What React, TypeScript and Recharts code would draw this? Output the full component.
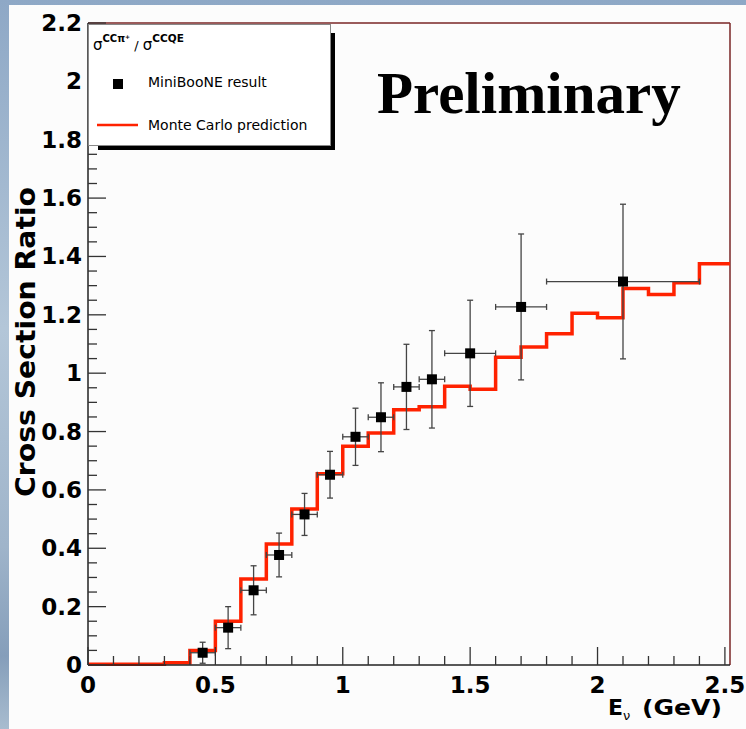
import React from "react";
import {
  ComposedChart,
  Line,
  Scatter,
  ErrorBar,
  XAxis,
  YAxis,
  ReferenceLine,
} from "recharts";

// MC prediction: bin edges and contents
const mcEdges = [0, 0.1, 0.2, 0.3, 0.4, 0.5, 0.6, 0.7, 0.8, 0.9, 1.0, 1.1, 1.2, 1.3, 1.4, 1.5, 1.6, 1.7, 1.8, 1.9, 2.0, 2.1, 2.2, 2.3, 2.4, 2.52];
const mcValues = [0.003, 0.003, 0.003, 0.008, 0.05, 0.15, 0.295, 0.415, 0.535, 0.655, 0.75, 0.795, 0.875, 0.885, 0.955, 0.945, 1.055, 1.09, 1.135, 1.205, 1.19, 1.29, 1.27, 1.31, 1.375];

// MiniBooNE measured points
const dataX = [0.45, 0.55, 0.65, 0.75, 0.85, 0.95, 1.05, 1.15, 1.25, 1.35, 1.5, 1.7, 2.1];
const dataY = [0.042, 0.128, 0.256, 0.377, 0.516, 0.652, 0.782, 0.849, 0.953, 0.979, 1.068, 1.227, 1.314];
const dataErrY = [0.036, 0.072, 0.084, 0.075, 0.072, 0.08, 0.098, 0.118, 0.146, 0.167, 0.182, 0.25, 0.265];
const dataErrX = [0.05, 0.05, 0.05, 0.05, 0.05, 0.05, 0.05, 0.05, 0.05, 0.05, 0.1, 0.1, 0.3];

// axis ticks
const xTicks = [0, 0.1, 0.2, 0.3, 0.4, 0.5, 0.6, 0.7, 0.8, 0.9, 1, 1.1, 1.2, 1.3, 1.4, 1.5, 1.6, 1.7, 1.8, 1.9, 2, 2.1, 2.2, 2.3, 2.4, 2.5];
const xMajor = [0, 0.5, 1, 1.5, 2, 2.5];
const yMajor = [0, 0.2, 0.4, 0.6, 0.8, 1, 1.2, 1.4, 1.6, 1.8, 2, 2.2];
const yMinor = [0.05, 0.1, 0.15, 0.25, 0.3, 0.35, 0.45, 0.5, 0.55, 0.65, 0.7, 0.75, 0.85, 0.9, 0.95, 1.05, 1.1, 1.15, 1.25, 1.3, 1.35, 1.45, 1.5, 1.55, 1.65, 1.7, 1.75, 1.85, 1.9, 1.95, 2.05, 2.1, 2.15];

const mcData = mcEdges.map((x, i) => ({ x, y: mcValues[Math.min(i, mcValues.length - 1)] }));
const points = dataX.map((x, i) => ({ x, y: dataY[i], ey: dataErrY[i], ex: dataErrX[i] }));
const yTicks = [...yMajor, ...yMinor].sort((a, b) => a - b);

const FONT = "DejaVu Sans";
const TICK = "#333";

const XTick = (props: any) => {
  const { x, y, payload } = props;
  const major = xMajor.includes(payload.value);
  return (
    <g>
      <line x1={x} x2={x} y1={y} y2={y - (major ? 18 : 9)} stroke={TICK} strokeWidth={1.3} />
      {major && (
        <text x={x} y={y + 28} textAnchor="middle" fontFamily={FONT} fontWeight="bold" fontSize={23} fill="#000">
          {String(payload.value)}
        </text>
      )}
    </g>
  );
};

const YTick = (props: any) => {
  const { x, y, payload } = props;
  const major = yMajor.includes(payload.value);
  return (
    <g>
      <line x1={x} x2={x + (major ? 18 : 9)} y1={y} y2={y} stroke={TICK} strokeWidth={1.3} />
      {major && (
        <text x={x - 6} y={y + 8} textAnchor="end" fontFamily={FONT} fontWeight="bold" fontSize={23} fill="#000">
          {String(payload.value)}
        </text>
      )}
    </g>
  );
};

const Square = (props: any) => {
  const { cx, cy } = props;
  return <rect x={cx - 5} y={cy - 5} width={10} height={10} fill="#000" />;
};

export default function App() {
  return (
    <div
      style={{
        position: "absolute",
        left: 0,
        top: 0,
        width: 746,
        height: 729,
        overflow: "hidden",
        background: "linear-gradient(to bottom, #8ea8c6 0%, #b3c6d8 45%, #9fb4ca 75%, #859eba 90%, #a8bccf 100%)",
      }}
    >
      <div style={{ position: "absolute", left: 9, top: 5, width: 737, height: 724, background: "#fcfcfc" }} />
      <div style={{ position: "absolute", left: 0, top: 0 }}>
        <ComposedChart width={746} height={729} margin={{ top: 23, right: 16, bottom: 0, left: 0 }}>
          <XAxis
            type="number"
            dataKey="x"
            domain={[0, 2.52]}
            ticks={xTicks}
            interval={0}
            tickSize={0}
            tickMargin={0}
            tickLine={false}
            tick={<XTick />}
            height={64}
            axisLine={{ stroke: "#222", strokeWidth: 1.5 }}
          />
          <YAxis
            type="number"
            domain={[0, 2.2]}
            ticks={yTicks}
            interval={0}
            tickSize={0}
            tickMargin={0}
            tickLine={false}
            tick={<YTick />}
            width={88}
            axisLine={{ stroke: "#222", strokeWidth: 1.5 }}
          />
          <ReferenceLine y={2.2} stroke="#7a2626" strokeWidth={1.5} />
          <ReferenceLine x={2.52} stroke="#7a2626" strokeWidth={1.5} />
          <Line
            data={mcData}
            dataKey="y"
            type="stepAfter"
            stroke="#ff2200"
            strokeWidth={3.5}
            dot={false}
            activeDot={false}
            isAnimationActive={false}
          />
          <Scatter data={points} dataKey="y" shape={<Square />} isAnimationActive={false}>
            <ErrorBar dataKey="ey" direction="y" width={3} stroke="#444" strokeWidth={1.3} isAnimationActive={false} />
            <ErrorBar dataKey="ex" direction="x" width={3} stroke="#444" strokeWidth={1.3} isAnimationActive={false} />
          </Scatter>
        </ComposedChart>
      </div>
      <svg width={746} height={729} style={{ position: "absolute", left: 0, top: 0, pointerEvents: "none" }}>
        {/* legend */}
        <rect x={98} y={33} width={237} height={117} fill="#000" />
        <rect x={88.5} y={24.5} width={242} height={121} fill="#fff" stroke="#888" strokeWidth={1} />
        <text x={93} y={50} fontFamily={FONT} fontSize={15} fill="#000">
          σ
          <tspan dy={-8} fontSize={10} fontWeight="bold">CCπ</tspan>
          <tspan dy={-3} fontSize={6} fontWeight="bold">+</tspan>
          <tspan dy={11} fontSize={13}> / </tspan>
          <tspan fontSize={15}>σ</tspan>
          <tspan dy={-8} fontSize={10.5} fontWeight="bold">CCQE</tspan>
        </text>
        <rect x={113} y={79} width={10} height={10} fill="#000" />
        <text x={148} y={87} fontFamily={FONT} fontSize={14} fill="#000">MiniBooNE result</text>
        <line x1={97} x2={138} y1={125} y2={125} stroke="#ff2200" strokeWidth={2.5} />
        <text x={148} y={130} fontFamily={FONT} fontSize={14} fill="#000">Monte Carlo prediction</text>
        {/* preliminary */}
        <text x={377} y={113} fontFamily="Liberation Serif" fontWeight="bold" fontSize={59} fill="#000">Preliminary</text>
        {/* axis titles */}
        <text
          transform="translate(35,342) rotate(-90)"
          textAnchor="middle"
          fontFamily={FONT}
          fontWeight="bold"
          fontSize={27}
          textLength={310}
          lengthAdjust="spacingAndGlyphs"
          fill="#000"
        >
          Cross Section Ratio
        </text>
        <text x={608} y={715} fontFamily={FONT} fontWeight="bold" fontSize={22} fill="#000">
          E
          <tspan dy={5} fontSize={13} fontWeight="normal">ν</tspan>
          <tspan x={642} dy={-5} textLength={80} lengthAdjust="spacingAndGlyphs">(GeV)</tspan>
        </text>
      </svg>
    </div>
  );
}
